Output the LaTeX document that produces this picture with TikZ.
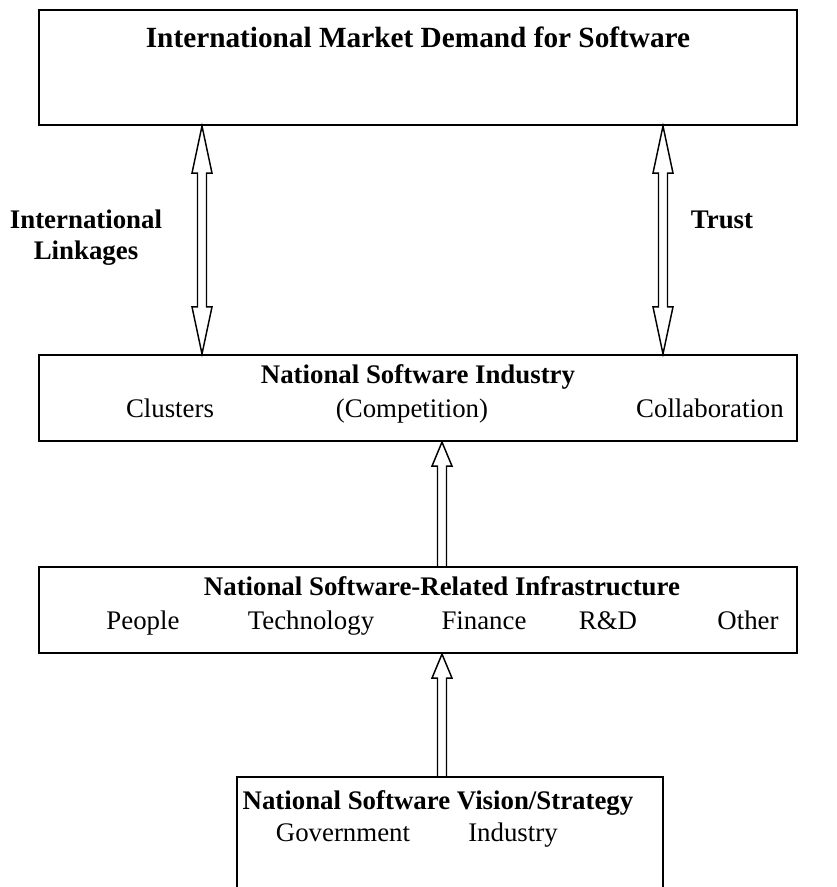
\documentclass[tikz,border=0pt,12pt]{standalone}
\usepackage{fontspec}
\setmainfont{Liberation Serif}
\usetikzlibrary{calc}

\def\px{0.0144cm}

% hollow block arrow, open at the tail: #1 tail, #2 tip, #3 head length
\newcommand{\oneway}[3]{%
  \draw[hollow] ($(#1)+(-4.5,0)$) -- ($(#2)+(-4.5,-#3)$) -- ($(#2)+(-10,-#3)$)
    -- (#2) -- ($(#2)+(10,-#3)$) -- ($(#2)+(4.5,-#3)$) -- ($(#1)+(4.5,0)$);
}
% hollow block arrow with two heads: #1 upper tip, #2 lower tip, #3 head length
\newcommand{\twoway}[3]{%
  \draw[hollow] (#1) -- ($(#1)+(10,-#3)$) -- ($(#1)+(4.5,-#3)$)
    -- ($(#2)+(4.5,#3)$) -- ($(#2)+(10,#3)$) -- (#2)
    -- ($(#2)+(-10,#3)$) -- ($(#2)+(-4.5,#3)$) -- ($(#1)+(-4.5,-#3)$)
    -- ($(#1)+(-10,-#3)$) -- cycle;
}

\begin{document}
\begin{tikzpicture}[
  x=\px, y=\px,
  every node/.style={anchor=base, font=\fontsize{11}{13}\selectfont},
  box/.style={draw, line width=0.9pt, inner sep=0pt, anchor=center},
  wide/.style={box, minimum width=758*\px, minimum height=86*\px},
  title/.style={font=\fontsize{11}{13}\selectfont\bfseries},
  hollow/.style={line width=0.6pt, line join=miter}
  ]
  \useasboundingbox (0,0) rectangle (837,887);
  \clip (0,0) rectangle (837,887);

  % boxes
  \node[box, minimum width=758*\px, minimum height=115*\px] (market) at (418,819.5) {};
  \node[wide] (industry) at (418,489) {};
  \node[wide] (infra) at (418,277) {};
  \node[box, minimum width=426*\px, minimum height=140*\px] (vision) at (450,40) {};

  % texts
  \node[title, font=\fontsize{12}{14}\selectfont\bfseries] (marketT) at (418,839) {International Market Demand for Software};

  \node[title] (industryT) at (418,503) {National Software Industry};
  \node (clusters) at (170,469) {Clusters};
  \node (competition) at (412,469) {(Competition)};
  \node (collab) at (710,469) {Collaboration};

  \node[title] (infraT) at (442,291) {National Software-Related Infrastructure};
  \node (people) at (143,257) {People};
  \node (tech) at (311,257) {Technology};
  \node (finance) at (484,257) {Finance};
  \node (rnd) at (608,257) {R\&D};
  \node (other) at (748,257) {Other};

  \node[title] (visionT) at (438,77) {National Software Vision/Strategy};
  \node (gov) at (343,46) {Government};
  \node (ind) at (513,46) {Industry};

  \node[title, align=center] (linkages) at (86,627) {International\\Linkages};
  \node[title] (trust) at (722,658) {Trust};

  % arrows
  \coordinate (lx) at (202,0);
  \coordinate (rx) at (663,0);
  \coordinate (cx) at (442,0);
  \coordinate (linkTop) at (market.south -| lx);
  \coordinate (linkBot) at (industry.north -| lx);
  \coordinate (trustTop) at (market.south -| rx);
  \coordinate (trustBot) at (industry.north -| rx);
  \coordinate (infraUp) at (infra.north -| cx);
  \coordinate (industryIn) at (industry.south -| cx);
  \coordinate (visionUp) at (vision.north -| cx);
  \coordinate (infraIn) at (infra.south -| cx);

  \twoway{linkTop}{linkBot}{47}
  \twoway{trustTop}{trustBot}{47}
  \oneway{infraUp}{industryIn}{24}
  \oneway{visionUp}{infraIn}{24}
\end{tikzpicture}
\end{document}
